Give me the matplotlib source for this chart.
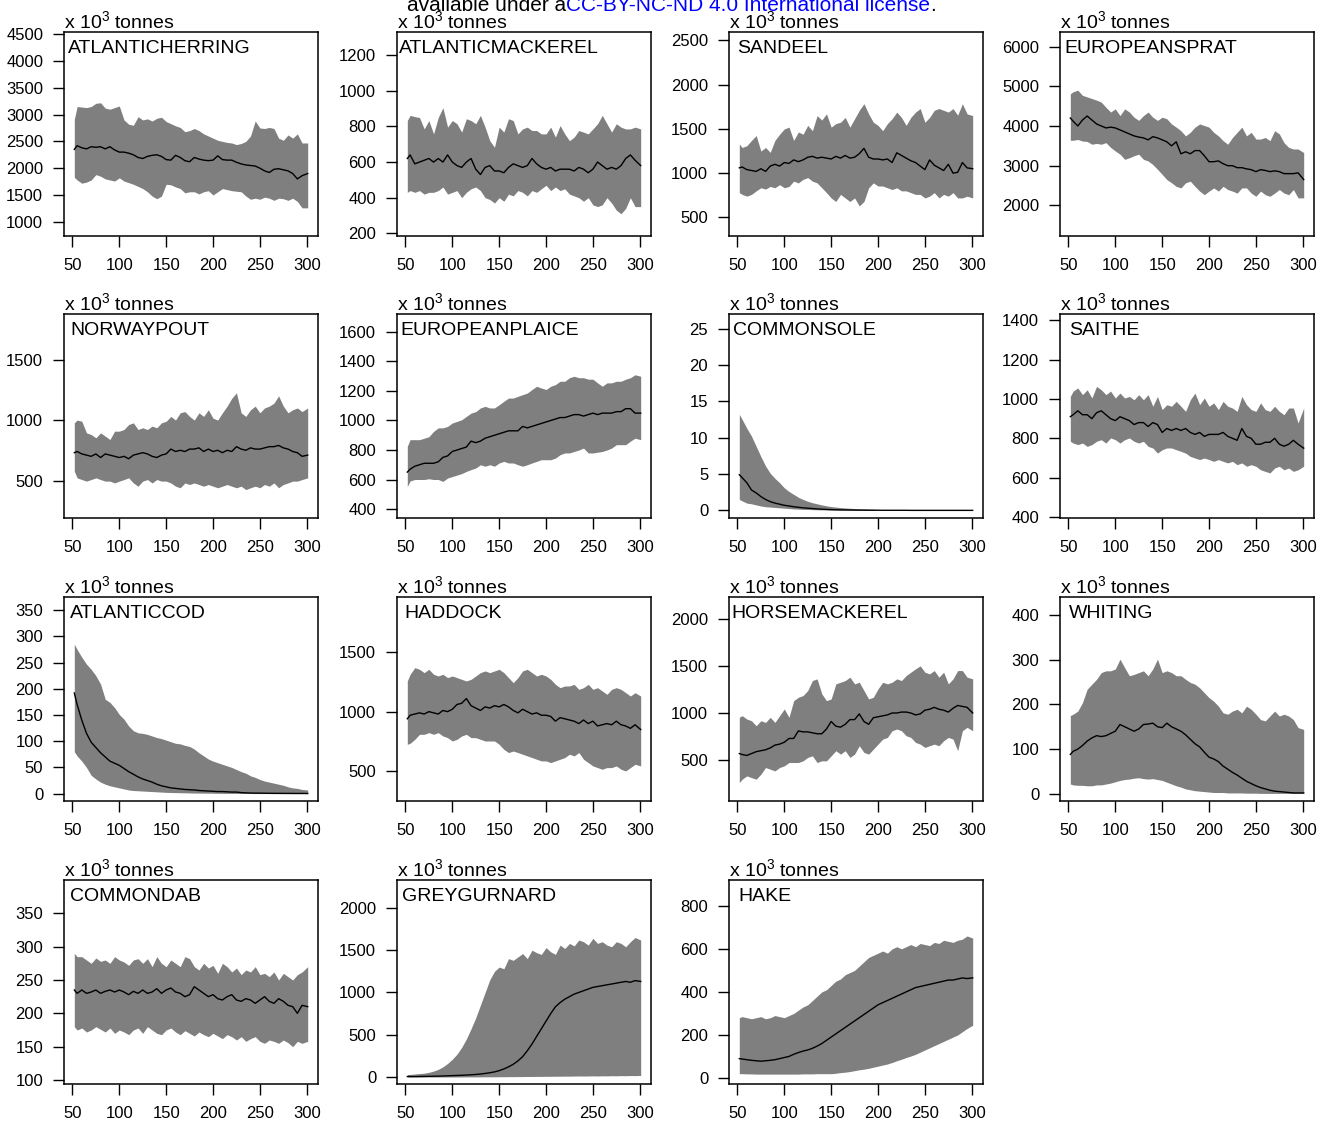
import numpy as np
import matplotlib
matplotlib.use("Agg")
import matplotlib.pyplot as plt

plt.rcParams['font.family'] = ['Liberation Sans', 'DejaVu Sans']
plt.rcParams['mathtext.default'] = 'regular'

# simulation years (sampled every 5 years)
YEARS = [52, 55, 60, 65, 70, 75, 80, 85, 90, 95, 100,
         105, 110, 115, 120, 125, 130, 135, 140, 145, 150,
         155, 160, 165, 170, 175, 180, 185, 190, 195, 200,
         205, 210, 215, 220, 225, 230, 235, 240, 245, 250,
         255, 260, 265, 270, 275, 280, 285, 290, 295, 301]

# biomass, x 10^3 tonnes: upper / median / lower of the ensemble
HERRING_UP = [2910, 3150, 3140, 3130, 3150, 3210, 3220, 3120, 3100, 3130, 3160,
              2900, 2820, 2800, 2960, 2900, 2920, 2880, 2930, 2950, 2870,
              2830, 2790, 2760, 2680, 2700, 2740, 2700, 2640, 2600, 2560,
              2520, 2500, 2480, 2470, 2440, 2460, 2500, 2600, 2880, 2750,
              2740, 2760, 2740, 2560, 2520, 2620, 2560, 2640, 2470, 2470]
HERRING_MED = [2350, 2420, 2380, 2360, 2400, 2390, 2400, 2360, 2400, 2340, 2300,
               2300, 2280, 2250, 2200, 2180, 2220, 2240, 2250, 2220, 2160,
               2150, 2240, 2200, 2140, 2120, 2200, 2170, 2150, 2140, 2150,
               2230, 2160, 2150, 2150, 2110, 2080, 2060, 2050, 2040, 2000,
               1950, 1920, 1980, 1990, 1970, 1950, 1900, 1800, 1860, 1900]
HERRING_LO = [1830, 1780, 1720, 1740, 1780, 1880, 1850, 1800, 1780, 1760, 1820,
              1760, 1730, 1700, 1660, 1620, 1560, 1480, 1430, 1480, 1700,
              1690, 1650, 1620, 1540, 1560, 1560, 1520, 1560, 1580, 1500,
              1560, 1620, 1600, 1580, 1570, 1560, 1480, 1420, 1440, 1420,
              1460, 1440, 1400, 1440, 1430, 1400, 1440, 1380, 1260, 1260]

MACKEREL_UP = [833, 862, 855, 850, 786, 833, 758, 850, 905, 796, 833,
               815, 768, 843, 833, 815, 862, 796, 720, 683, 796,
               768, 843, 833, 758, 786, 796, 777, 777, 758, 758,
               796, 740, 805, 758, 720, 740, 777, 768, 758, 786,
               815, 862, 815, 768, 815, 796, 786, 786, 796, 786]
MACKEREL_MED = [620, 640, 590, 600, 610, 620, 600, 620, 600, 640, 600,
                580, 570, 600, 620, 560, 530, 570, 580, 550, 550,
                540, 570, 590, 580, 570, 580, 620, 590, 570, 560,
                570, 550, 560, 560, 560, 550, 570, 560, 540, 560,
                600, 580, 560, 570, 560, 580, 620, 640, 610, 580]
MACKEREL_LO = [430, 440, 430, 440, 420, 430, 430, 440, 460, 420, 430,
               440, 400, 430, 450, 460, 440, 400, 390, 370, 400,
               380, 420, 410, 440, 430, 410, 440, 430, 450, 470,
               440, 460, 440, 450, 420, 410, 400, 380, 400, 360,
               350, 360, 400, 370, 330, 310, 340, 400, 350, 350]

SANDEEL_UP = [1330, 1290, 1310, 1370, 1425, 1250, 1290, 1235, 1370, 1440, 1500,
              1520, 1370, 1465, 1440, 1540, 1480, 1650, 1600, 1670, 1520,
              1560, 1575, 1630, 1520, 1615, 1710, 1785, 1670, 1575, 1540,
              1480, 1560, 1615, 1690, 1630, 1540, 1630, 1690, 1730, 1575,
              1630, 1710, 1730, 1710, 1690, 1730, 1655, 1785, 1670, 1650]
SANDEEL_MED = [1060, 1070, 1040, 1030, 1020, 1050, 1020, 1080, 1100, 1080, 1120,
               1110, 1150, 1130, 1150, 1180, 1190, 1170, 1180, 1170, 1160,
               1190, 1170, 1200, 1170, 1180, 1220, 1280, 1180, 1160, 1160,
               1150, 1160, 1120, 1230, 1200, 1170, 1140, 1120, 1080, 1040,
               1150, 1090, 1060, 1030, 1100, 1000, 1010, 1120, 1060, 1050]
SANDEEL_LO = [780, 760, 740, 760, 800, 835, 820, 850, 835, 870, 835,
              850, 910, 890, 930, 950, 910, 890, 835, 780, 720,
              680, 760, 720, 680, 720, 630, 680, 835, 890, 855,
              855, 835, 815, 835, 800, 800, 780, 760, 760, 720,
              740, 780, 720, 760, 740, 780, 720, 720, 740, 720]

SPRAT_UP = [4810, 4860, 4900, 4770, 4730, 4690, 4650, 4600, 4470, 4350, 4430,
            4260, 4430, 4350, 4220, 4140, 4260, 4350, 4220, 4140, 4220,
            4180, 4050, 3970, 3880, 3750, 3840, 3970, 4050, 4010, 3970,
            3840, 3750, 3630, 3540, 3710, 3840, 3970, 3750, 3840, 3670,
            3670, 3710, 3630, 3880, 3800, 3580, 3460, 3420, 3420, 3330]
SPRAT_MED = [4200, 4120, 4000, 4150, 4250, 4150, 4050, 4000, 3950, 3970, 3950,
             3900, 3850, 3800, 3750, 3720, 3700, 3650, 3730, 3700, 3650,
             3600, 3500, 3600, 3300, 3350, 3300, 3380, 3380, 3250, 3100,
             3100, 3120, 3050, 3000, 3000, 2950, 2950, 2920, 2900, 2850,
             2900, 2880, 2850, 2870, 2850, 2800, 2800, 2800, 2820, 2650]
SPRAT_LO = [3640, 3640, 3660, 3620, 3610, 3540, 3560, 3540, 3580, 3460, 3370,
            3290, 3160, 3200, 3250, 3290, 3160, 3120, 3030, 2910, 2780,
            2650, 2570, 2480, 2440, 2570, 2610, 2480, 2360, 2270, 2360,
            2440, 2360, 2480, 2400, 2360, 2310, 2440, 2440, 2310, 2230,
            2360, 2270, 2230, 2310, 2400, 2310, 2270, 2400, 2190, 2190]

NPOUT_UP = [977, 1000, 990, 894, 880, 853, 894, 867, 839, 908, 908,
            922, 963, 977, 922, 936, 922, 950, 936, 977, 990,
            1030, 1000, 1060, 1070, 1030, 1000, 1060, 1030, 1085, 1015,
            1000, 1060, 1115, 1180, 1225, 1060, 1030, 1085, 1115, 1060,
            1100, 1115, 1140, 1200, 1115, 1060, 1085, 1100, 1070, 1100]
NPOUT_MED = [730, 740, 720, 710, 700, 720, 690, 720, 710, 700, 690,
             700, 680, 710, 720, 730, 720, 700, 690, 710, 720,
             760, 740, 750, 740, 760, 760, 770, 740, 760, 740,
             750, 730, 750, 740, 780, 760, 750, 770, 760, 760,
             770, 780, 780, 790, 770, 760, 740, 730, 700, 710]
NPOUT_LO = [577, 522, 508, 495, 508, 522, 508, 495, 495, 480, 495,
            508, 522, 480, 453, 495, 508, 480, 508, 495, 495,
            480, 453, 440, 480, 467, 480, 467, 453, 467, 453,
            440, 453, 467, 453, 440, 453, 425, 440, 453, 440,
            467, 453, 480, 440, 467, 480, 495, 495, 508, 522]

PLAICE_UP = [825, 870, 870, 870, 880, 890, 926, 950, 950, 960, 983,
             994, 1005, 1028, 1050, 1060, 1085, 1096, 1085, 1085, 1107,
             1130, 1152, 1152, 1164, 1175, 1186, 1210, 1232, 1220, 1210,
             1232, 1243, 1266, 1266, 1290, 1300, 1290, 1290, 1280, 1280,
             1255, 1232, 1255, 1255, 1266, 1266, 1280, 1290, 1310, 1300]
PLAICE_MED = [650, 670, 690, 700, 710, 710, 710, 720, 750, 760, 790,
              800, 810, 820, 860, 850, 860, 880, 890, 900, 910,
              920, 930, 930, 930, 960, 950, 960, 970, 980, 990,
              1000, 1010, 1020, 1020, 1030, 1040, 1040, 1030, 1040, 1050,
              1040, 1050, 1050, 1050, 1060, 1060, 1080, 1080, 1050, 1050]
PLAICE_LO = [553, 590, 600, 600, 600, 605, 600, 600, 587, 610, 620,
             630, 640, 655, 667, 678, 700, 690, 700, 690, 712,
             723, 712, 712, 700, 690, 700, 712, 723, 734, 734,
             734, 745, 768, 780, 780, 790, 800, 813, 780, 780,
             785, 790, 800, 813, 836, 836, 836, 860, 880, 870]

SOLE_UP = [13.2, 12.5, 11.3, 10.2, 8.8, 7.4, 6.1, 5.1, 4.4, 3.8, 3.1,
           2.6, 2.2, 1.8, 1.5, 1.25, 1.05, 0.9, 0.75, 0.62, 0.52,
           0.45, 0.38, 0.33, 0.29, 0.26, 0.23, 0.2, 0.18, 0.16, 0.05,
           0.03, 0.02, 0.02, 0.01, 0.01, 0.01, 0.01, 0, 0, 0,
           0, 0, 0, 0, 0, 0, 0, 0, 0, 0]
SOLE_MED = [4.9, 4.5, 3.8, 2.8, 2.4, 1.9, 1.5, 1.2, 1.0, 0.85, 0.7,
            0.6, 0.5, 0.42, 0.35, 0.3, 0.25, 0.2, 0.16, 0.13, 0.1,
            0.08, 0.07, 0.06, 0.05, 0.04, 0.03, 0.03, 0.02, 0.02, 0.02,
            0.01, 0.01, 0.01, 0.01, 0.01, 0.01, 0, 0, 0, 0,
            0, 0, 0, 0, 0, 0, 0, 0, 0, 0]
SOLE_LO = [1.5, 1.3, 1.0, 0.9, 0.75, 0.6, 0.5, 0.45, 0.4, 0.35, 0.3,
           0.25, 0.2, 0.17, 0.14, 0.12, 0.1, 0.08, 0.07, 0.06, 0.05,
           0.04, 0.03, 0.03, 0.02, 0.02, 0.02, 0.01, 0.01, 0.01, 0.01,
           0, 0, 0, 0, 0, 0, 0, 0, 0, 0,
           0, 0, 0, 0, 0, 0, 0, 0, 0, 0]

SAITHE_UP = [1013, 1040, 1056, 1022, 1047, 1005, 1064, 1047, 1022, 1040, 1005,
             1030, 1005, 1013, 996, 1022, 996, 1022, 963, 1013, 946,
             971, 963, 988, 963, 937, 996, 1030, 971, 1005, 963,
             980, 946, 988, 963, 954, 937, 1013, 971, 946, 937,
             980, 946, 937, 963, 937, 920, 954, 954, 878, 954]
SAITHE_MED = [910, 920, 940, 920, 920, 900, 930, 940, 920, 900, 890,
              910, 900, 890, 870, 880, 880, 860, 880, 870, 830,
              850, 840, 850, 840, 850, 830, 820, 830, 810, 820,
              820, 820, 830, 810, 800, 790, 850, 810, 800, 770,
              770, 780, 780, 800, 770, 760, 770, 790, 770, 750]
SAITHE_LO = [785, 776, 768, 776, 759, 768, 785, 793, 776, 802, 793,
             776, 793, 802, 785, 776, 785, 759, 751, 725, 742,
             751, 751, 742, 734, 725, 708, 700, 692, 700, 692,
             683, 692, 683, 675, 683, 666, 675, 658, 666, 658,
             640, 632, 624, 649, 658, 640, 649, 632, 640, 658]

COD_UP = [285, 275, 260, 247, 237, 225, 209, 180, 174, 164, 151,
          142, 129, 120, 116, 115, 113, 110, 107, 105, 102,
          99, 96, 95, 92, 90, 85, 78, 72, 66, 62,
          59, 56, 53, 50, 46, 42, 39, 34, 31, 27,
          24, 22, 20, 18, 16, 13, 11, 10, 8, 7]
COD_MED = [192, 170, 140, 115, 98, 88, 78, 70, 62, 58, 54,
           48, 42, 37, 32, 28, 25, 22, 18, 15, 13,
           11, 10, 9, 8, 7.5, 7, 6, 5.5, 5, 4.5,
           4, 4, 3.5, 3, 3, 2, 1.5, 1.2, 1, 1,
           0.8, 0.7, 0.6, 0.6, 0.5, 0.5, 0.4, 0.4, 0.4, 0.3]
COD_LO = [80, 72, 62, 50, 35, 28, 22, 18, 15, 13, 11,
          9, 7, 6, 5.5, 5, 4.5, 4, 3.5, 3, 2.5,
          2.2, 2, 1.8, 1.6, 1.4, 1.2, 1.1, 1, 0.9, 0.8,
          0.7, 0.6, 0.5, 0.5, 0.4, 0.4, 0.3, 0.3, 0.2, 0.2,
          0.2, 0.2, 0.1, 0.1, 0.1, 0.1, 0.1, 0.1, 0.1, 0.1]

HADDOCK_UP = [1257, 1313, 1369, 1355, 1327, 1355, 1313, 1299, 1313, 1285, 1299,
              1285, 1271, 1257, 1271, 1299, 1327, 1341, 1327, 1341, 1355,
              1327, 1285, 1243, 1285, 1341, 1355, 1327, 1299, 1313, 1299,
              1271, 1229, 1201, 1215, 1215, 1229, 1187, 1201, 1229, 1187,
              1201, 1173, 1145, 1187, 1201, 1187, 1159, 1131, 1159, 1131]
HADDOCK_MED = [940, 970, 980, 990, 980, 1000, 990, 980, 1010, 1000, 1020,
               1060, 1070, 1110, 1050, 1030, 1010, 1040, 1030, 1050, 1040,
               1060, 1040, 1010, 990, 1020, 1000, 980, 990, 970, 970,
               960, 920, 950, 940, 930, 920, 900, 930, 900, 920,
               880, 890, 900, 890, 920, 890, 880, 860, 890, 850]
HADDOCK_LO = [726, 735, 768, 810, 810, 824, 810, 824, 796, 782, 754,
              768, 796, 810, 782, 782, 768, 754, 754, 754, 726,
              684, 657, 670, 657, 643, 629, 615, 601, 587, 587,
              573, 587, 601, 615, 643, 629, 657, 601, 573, 545,
              531, 517, 531, 531, 545, 517, 503, 531, 559, 545]

HORSE_UP = [954, 972, 936, 918, 865, 918, 900, 954, 900, 972, 1043,
            954, 1131, 1167, 1185, 1238, 1344, 1362, 1203, 1131, 1149,
            1309, 1326, 1344, 1380, 1309, 1326, 1238, 1149, 1167, 1256,
            1326, 1309, 1326, 1362, 1344, 1397, 1433, 1468, 1500, 1433,
            1415, 1450, 1380, 1433, 1309, 1362, 1450, 1450, 1380, 1362]
HORSE_MED = [570, 560, 550, 570, 590, 600, 610, 630, 660, 670, 690,
             730, 730, 810, 800, 800, 790, 780, 780, 830, 910,
             860, 850, 880, 930, 930, 990, 910, 880, 950, 960,
             970, 980, 1000, 1000, 1010, 1010, 1000, 980, 990, 1030,
             1040, 1060, 1040, 1030, 1010, 1050, 1080, 1070, 1060, 1000]
HORSE_LO = [262, 298, 333, 315, 298, 351, 422, 404, 386, 422, 440,
            475, 475, 475, 493, 529, 546, 475, 493, 493, 546,
            600, 564, 600, 529, 564, 653, 582, 564, 617, 670,
            723, 741, 812, 830, 812, 759, 741, 688, 670, 635,
            653, 670, 653, 706, 741, 723, 600, 812, 848, 812]

WHITING_UP = [175, 178, 185, 204, 234, 245, 256, 271, 275, 275, 279,
              301, 282, 264, 267, 271, 275, 264, 279, 301, 271,
              275, 271, 264, 264, 256, 249, 245, 237, 226, 215,
              207, 196, 181, 178, 185, 189, 181, 196, 189, 178,
              166, 163, 174, 185, 174, 178, 174, 166, 148, 144]
WHITING_MED = [88, 95, 100, 108, 118, 125, 130, 128, 130, 135, 140,
               155, 150, 145, 140, 145, 155, 156, 158, 150, 148,
               158, 150, 145, 140, 132, 122, 112, 105, 93, 82,
               78, 72, 62, 55, 48, 42, 35, 28, 23, 18,
               14, 11, 8, 6, 5, 4, 3, 2, 2, 2]
WHITING_LO = [22, 20, 19, 19, 18, 18, 20, 20, 22, 24, 27,
              30, 32, 33, 35, 36, 34, 33, 34, 32, 30,
              26, 22, 18, 15, 11, 9, 7, 6, 5, 4,
              3, 3, 3, 2, 2, 2, 2, 1.5, 1.5, 1.5,
              1, 1, 1, 1, 1, 1, 1, 1, 1, 1]

DAB_UP = [290, 285, 285, 280, 275, 283, 278, 280, 275, 285, 280,
          277, 272, 280, 282, 275, 282, 270, 285, 275, 270,
          280, 275, 270, 285, 282, 270, 265, 275, 268, 272,
          260, 275, 270, 262, 268, 258, 265, 262, 270, 258,
          260, 255, 262, 250, 260, 255, 250, 258, 262, 270]
DAB_MED = [235, 230, 235, 230, 232, 235, 230, 233, 235, 232, 235,
           232, 228, 233, 230, 235, 230, 232, 237, 230, 235,
           238, 232, 230, 225, 228, 240, 235, 230, 225, 228,
           222, 220, 225, 228, 220, 218, 222, 220, 215, 220,
           225, 218, 215, 222, 218, 212, 210, 200, 212, 210]
DAB_LO = [180, 175, 178, 172, 175, 180, 176, 172, 178, 170, 175,
          172, 168, 175, 178, 170, 180, 175, 170, 168, 175,
          178, 172, 168, 174, 170, 166, 172, 168, 165, 170,
          166, 162, 168, 165, 160, 165, 158, 162, 165, 158,
          155, 160, 158, 155, 160, 156, 150, 158, 155, 158]

GURNARD_UP = [30, 30, 35, 40, 45, 55, 70, 90, 120, 160, 210,
              270, 350, 450, 570, 700, 850, 1000, 1150, 1250, 1300,
              1280, 1400, 1380, 1420, 1460, 1400, 1500, 1470, 1450, 1530,
              1480, 1450, 1560, 1520, 1580, 1550, 1620, 1600, 1560, 1640,
              1580, 1600, 1560, 1540, 1600, 1580, 1540, 1600, 1650, 1620]
GURNARD_MED = [5, 5, 5, 6, 7, 8, 9, 10, 12, 14, 16,
               18, 20, 23, 26, 30, 35, 42, 50, 60, 75,
               95, 120, 150, 190, 240, 310, 390, 480, 570, 660,
               750, 830, 880, 920, 950, 980, 1000, 1020, 1040, 1060,
               1070, 1080, 1090, 1100, 1110, 1120, 1130, 1120, 1140, 1130]
GURNARD_LO = [0, 0, 0, 0, 0, 0, 0, 0, 0, 0, 0,
              0, 0, 1, 1, 1, 1, 2, 2, 2, 3,
              3, 4, 4, 5, 5, 6, 6, 7, 7, 8,
              8, 9, 9, 10, 10, 11, 12, 11, 12, 13,
              12, 14, 13, 15, 14, 16, 15, 17, 16, 18]

HAKE_UP = [280, 285, 280, 275, 280, 285, 275, 280, 290, 285, 280,
           290, 300, 315, 330, 340, 360, 380, 400, 410, 430,
           450, 460, 480, 490, 500, 520, 540, 560, 570, 580,
           590, 580, 600, 610, 600, 610, 620, 610, 625, 620,
           615, 630, 625, 640, 635, 630, 640, 645, 660, 650]
HAKE_MED = [90, 88, 85, 82, 80, 78, 80, 82, 85, 90, 95,
            100, 110, 118, 125, 130, 138, 148, 160, 175, 190,
            205, 220, 235, 250, 265, 280, 295, 310, 325, 340,
            350, 360, 370, 380, 390, 400, 410, 420, 425, 430,
            435, 440, 445, 450, 455, 455, 460, 465, 462, 465]
HAKE_LO = [20, 20, 19, 19, 18, 18, 18, 18, 18, 18, 18,
           18, 18, 18, 19, 19, 19, 20, 20, 20, 20,
           22, 25, 27, 30, 34, 38, 41, 45, 50, 55,
           60, 65, 72, 80, 87, 95, 102, 110, 120, 130,
           140, 150, 160, 170, 180, 190, 200, 215, 230, 245]

SPECIES = [
    ("ATLANTICHERRING", HERRING_UP, HERRING_MED, HERRING_LO),
    ("ATLANTICMACKEREL", MACKEREL_UP, MACKEREL_MED, MACKEREL_LO),
    ("SANDEEL", SANDEEL_UP, SANDEEL_MED, SANDEEL_LO),
    ("EUROPEANSPRAT", SPRAT_UP, SPRAT_MED, SPRAT_LO),
    ("NORWAYPOUT", NPOUT_UP, NPOUT_MED, NPOUT_LO),
    ("EUROPEANPLAICE", PLAICE_UP, PLAICE_MED, PLAICE_LO),
    ("COMMONSOLE", SOLE_UP, SOLE_MED, SOLE_LO),
    ("SAITHE", SAITHE_UP, SAITHE_MED, SAITHE_LO),
    ("ATLANTICCOD", COD_UP, COD_MED, COD_LO),
    ("HADDOCK", HADDOCK_UP, HADDOCK_MED, HADDOCK_LO),
    ("HORSEMACKEREL", HORSE_UP, HORSE_MED, HORSE_LO),
    ("WHITING", WHITING_UP, WHITING_MED, WHITING_LO),
    ("COMMONDAB", DAB_UP, DAB_MED, DAB_LO),
    ("GREYGURNARD", GURNARD_UP, GURNARD_MED, GURNARD_LO),
    ("HAKE", HAKE_UP, HAKE_MED, HAKE_LO),
]

# axis ranges: (ymin, ymax), (first tick, last tick, step), name offset in px
AXES_CFG = [
    ((735, 4540), (1000, 4500, 500), 4),
    ((185, 1330), (200, 1200, 200), 2),
    ((290, 2595), (500, 2500, 500), 8),
    ((1230, 6365), (2000, 6000, 1000), 4),
    ((190, 1877), (500, 1500, 500), 6),
    ((339, 1722), (400, 1600, 200), 3),
    ((-1.05, 27), (0, 25, 5), 4),
    ((395, 1432), (400, 1400, 200), 9),
    ((-14, 375), (0, 350, 50), 6),
    ((251, 1961), (500, 1500, 500), 7),
    ((67, 2230), (500, 2000, 500), 2),
    ((-16, 440), (0, 400, 100), 9),
    ((94, 400), (100, 350, 50), 6),
    ((-83, 2330), (0, 2000, 500), 5),
    ((-28, 920), (0, 800, 200), 9),
]

W, H = 1331, 1126
fig = plt.figure(figsize=(W / 100, H / 100), dpi=100)

col_left = [64, 397, 729, 1060]
row_top = [32, 314, 597, 880]
bw, bh = 254, 204

for i, ((name, up, med, lo), (ylim, yt, dx)) in enumerate(zip(SPECIES, AXES_CFG)):
    r, c = divmod(i, 4)
    ax = fig.add_axes([col_left[c] / W, 1 - (row_top[r] + bh) / H, bw / W, bh / H])
    ax.fill_between(YEARS, lo, up, color='#7f7f7f', lw=0)
    ax.plot(YEARS, med, color='black', lw=1)
    ax.set_xlim(41, 312)
    ax.set_ylim(*ylim)
    ax.set_xticks(range(50, 301, 50))
    ax.set_yticks(np.arange(yt[0], yt[1] + yt[2] / 2, yt[2]))
    ax.yaxis.set_major_formatter(matplotlib.ticker.FuncFormatter(lambda v, p: f"{v:g}"))
    ax.tick_params(axis='both', direction='out', length=8, width=1, labelsize=12, color='black')
    ax.tick_params(axis='x', pad=8)
    ax.tick_params(axis='y', pad=7)
    for s in ax.spines.values():
        s.set_linewidth(1.1)
    ax.text(dx / bw, 1 - 8 / bh, name, transform=ax.transAxes, ha='left', va='top', fontsize=14)
    ax.text(0.0, 1 + 4 / bh, r'x $10^3$ tonnes', transform=ax.transAxes,
            ha='left', va='baseline', fontsize=14)

# license strip, cut at the top edge
renderer = fig.canvas.get_renderer()
y0 = 1 - 11 / H
t1 = fig.text(407 / W, y0, "available under a", fontsize=15, va='baseline', color='black')
x1 = t1.get_window_extent(renderer).x1 / W
t2 = fig.text(x1, y0, "CC-BY-NC-ND 4.0 International license", fontsize=15, va='baseline', color='#0000ff')
x2 = t2.get_window_extent(renderer).x1 / W
fig.text(x2, y0, ".", fontsize=15, va='baseline', color='black')

fig.savefig("out.png", dpi=100)
